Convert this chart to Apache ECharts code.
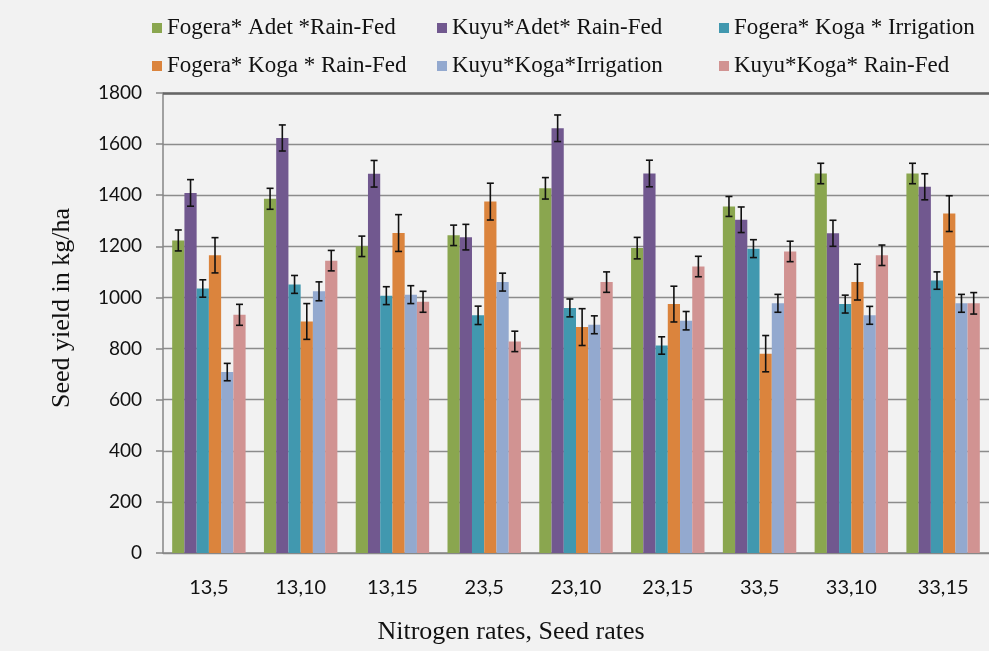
<!DOCTYPE html>
<html>
<head>
<meta charset="utf-8">
<script src="https://cdn.jsdelivr.net/npm/echarts@6/dist/echarts.min.js"></script>
<style>html,body{margin:0;padding:0;background:#f2f2f2;}#c{width:989px;height:651px;}</style>
</head>
<body>
<div id="c"></div>
<script>
var categories = ['13,5','13,10','13,15','23,5','23,10','23,15','33,5','33,10','33,15'];
var seriesNames = ['Fogera* Adet *Rain-Fed','Kuyu*Adet* Rain-Fed','Fogera* Koga * Irrigation','Fogera* Koga * Rain-Fed','Kuyu*Koga*Irrigation','Kuyu*Koga* Rain-Fed'];
var fogeraAdetRain = [1223,1386,1200,1243,1427,1193,1356,1485,1485];
var kuyuAdetRain   = [1409,1624,1484,1236,1662,1485,1304,1251,1433];
var fogeraKogaIrr  = [1035,1051,1007,930,959,812,1191,974,1066];
var fogeraKogaRain = [1165,906,1252,1375,884,974,780,1060,1328];
var kuyuKogaIrr    = [708,1024,1011,1060,893,909,977,930,977];
var kuyuKogaRain   = [932,1144,983,828,1060,1121,1180,1165,977];
var errFogeraAdetRain = [41,41,40,40,42,42,39,40,40];
var errKuyuAdetRain   = [52,51,52,50,52,52,50,51,51];
var errFogeraKogaIrr  = [34,35,35,36,35,34,35,35,34];
var errFogeraKogaRain = [69,70,72,72,72,70,71,70,70];
var errKuyuKogaIrr    = [34,37,35,35,35,36,35,35,35];
var errKuyuKogaRain   = [41,40,41,40,40,40,40,40,42];
var yTicks = [0,200,400,600,800,1000,1200,1400,1600,1800];

var values = [fogeraAdetRain,kuyuAdetRain,fogeraKogaIrr,fogeraKogaRain,kuyuKogaIrr,kuyuKogaRain];
var errors = [errFogeraAdetRain,errKuyuAdetRain,errFogeraKogaIrr,errFogeraKogaRain,errKuyuKogaIrr,errKuyuKogaRain];
var colors = ['#8aa64f','#71588f','#4198af','#db843d','#93a9cf','#d19392'];
var NS = values.length;
var GAP = 0.2;

var series = [];
values.forEach(function(v, i){
  series.push({
    name: seriesNames[i], type: 'bar', data: v,
    barGap: '0%', barCategoryGap: (GAP*100)+'%',
    itemStyle: {color: colors[i]},
    z: 2,
    markLine: i === 0 ? {silent:true, symbol:'none', label:{show:false}, animation:false,
      lineStyle:{color:'#666666', width:2.5, type:'solid'}, data:[{yAxis: yTicks[yTicks.length-1]}]} : undefined
  });
});
values.forEach(function(v, i){
  series.push({
    name: 'err' + i, type: 'custom', z: 5,
    data: v.map(function(val, k){ return [k, val, errors[i][k]]; }),
    renderItem: function(params, api){
      var k = api.value(0), val = api.value(1), e = api.value(2);
      var c = api.coord([k, val]);
      var band = api.size([1, 0])[0];
      var bw = band * (1 - GAP) / NS;
      var x = c[0] - band * (1 - GAP) / 2 + bw * (i + 0.5);
      var yt = api.coord([k, val + e])[1];
      var yb = api.coord([k, val - e])[1];
      var cap = 3.5;
      var st = {stroke:'#111', lineWidth:1.6};
      return {type:'group', children:[
        {type:'line', shape:{x1:x,y1:yt,x2:x,y2:yb}, style:st},
        {type:'line', shape:{x1:x-cap,y1:yt,x2:x+cap,y2:yt}, style:st},
        {type:'line', shape:{x1:x-cap,y1:yb,x2:x+cap,y2:yb}, style:st}
      ]};
    }
  });
});

var legendPos = [[152,15],[437,15],[719,15],[152,53],[437,53],[719,53]];
var legends = seriesNames.map(function(n, i){
  return {data:[n], left: legendPos[i][0], top: legendPos[i][1], padding:0,
    itemWidth:10, itemHeight:10, icon:'rect', selectedMode:false,
    textStyle:{fontFamily:'Liberation Serif', fontSize:23, color:'#111', lineHeight:26}};
});

var chart = echarts.init(document.getElementById('c'));
chart.setOption({
  backgroundColor: '#f2f2f2',
  animation: false,
  legend: legends,
  grid: {left:163, top:93, bottom:98, right:-7, containLabel:false},
  xAxis: {
    type:'category', data: categories,
    axisLine:{show:true, lineStyle:{color:'#868686', width:1.5}},
    axisTick:{show:false},
    axisLabel:{fontFamily:'Lato', fontSize:20, color:'#111', margin:25}
  },
  yAxis: {
    type:'value', min: yTicks[0], max: yTicks[yTicks.length-1], interval: 200,
    axisLine:{show:true, lineStyle:{color:'#868686', width:1.5}},
    axisTick:{show:true, inside:false, length:7, lineStyle:{color:'#868686', width:1.5}},
    axisLabel:{fontFamily:'Lato', fontSize:19, color:'#111', margin:21, formatter: function(v){ return String(v); }},
    splitLine:{show:true, lineStyle:{color:'#8c8c8c', width:1.3}}
  },
  graphic: [
    {type:'text', x: 62, y: 308, rotation: Math.PI/2,
      style:{text:'Seed yield in kg/ha', font:'26px "Liberation Serif"', fill:'#111', align:'center', verticalAlign:'middle'}},
    {type:'text', x: 511, y: 632,
      style:{text:'Nitrogen rates, Seed rates', font:'26px "Liberation Serif"', fill:'#111', align:'center', verticalAlign:'middle'}}
  ],
  series: series
});
</script>
</body>
</html>
